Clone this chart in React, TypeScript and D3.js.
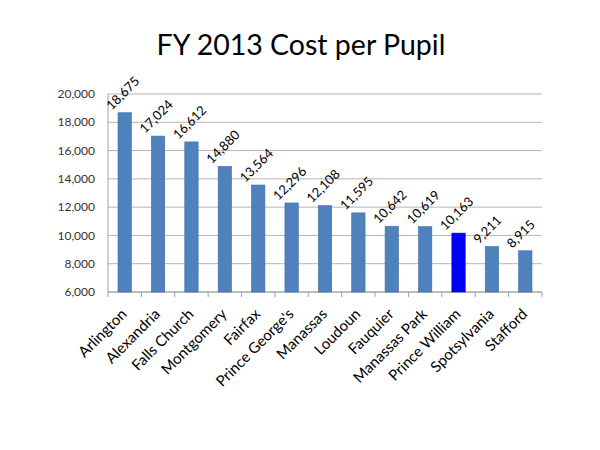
import * as d3 from 'd3'

const CATEGORIES = [
  'Arlington', 'Alexandria', 'Falls Church', 'Montgomery', 'Fairfax', "Prince George's",
  'Manassas', 'Loudoun', 'Fauquier', 'Manassas Park', 'Prince William', 'Spotsylvania', 'Stafford',
]
const COST = [18675, 17024, 16612, 14880, 13564, 12296, 12108, 11595, 10642, 10619, 10163, 9211, 8915]
const HIGHLIGHT = 'Prince William'
const Y_TICKS = [6000, 8000, 10000, 12000, 14000, 16000, 18000, 20000]

const W = 600
const H = 450
const M = { top: 94, right: 58, bottom: 158, left: 108 }
const FONT = 'Lato, "Open Sans", sans-serif'

export default function App() {
  const iw = W - M.left - M.right
  const ih = H - M.top - M.bottom
  const x = d3.scaleBand().domain(CATEGORIES).range([0, iw]).paddingInner(0.6).paddingOuter(0.3)
  const y = d3.scaleLinear().domain([6000, 20000]).range([ih, 0])
  const fmt = d3.format(',')
  const step = x.step()

  return (
    <svg width={W} height={H} style={{ position: 'absolute', left: 0, top: 0, background: '#fff' }}>
      <text x={301} y={55} textAnchor="middle" fontFamily={FONT} fontSize={28.5} fill="#000">
        FY 2013 Cost per Pupil
      </text>
      <g transform={`translate(${M.left},${M.top})`}>
        {Y_TICKS.map(t => (
          <g key={t}>
            <line x1={0} x2={iw} y1={y(t)} y2={y(t)} stroke="#b4b4b4" strokeWidth={1} />
            <text x={-13} y={y(t)} dy="0.35em" textAnchor="end" fontFamily={FONT} fontSize={12} fill="#333">
              {fmt(t)}
            </text>
          </g>
        ))}
        <line x1={0} x2={0} y1={0} y2={ih} stroke="#a0a0a0" />
        <line x1={0} x2={iw} y1={ih} y2={ih} stroke="#a0a0a0" />
        {d3.range(CATEGORIES.length + 1).map(i => (
          <line key={i} x1={i * step} x2={i * step} y1={ih} y2={ih + 5} stroke="#a0a0a0" />
        ))}
        {CATEGORIES.map((c, i) => {
          const bx = x(c) as number
          const by = y(COST[i])
          const cx = bx + x.bandwidth() / 2
          return (
            <g key={c}>
              <rect x={bx} y={by} width={x.bandwidth()} height={ih - by}
                fill={c === HIGHLIGHT ? '#0000ff' : '#4f81bd'}
                stroke={c === HIGHLIGHT ? '#0000cc' : '#3f6ea5'} strokeWidth={0.6} />
              <text transform={`translate(${cx - 13},${by - 2}) rotate(-45)`}
                fontFamily={FONT} fontSize={13} fill="#000">
                {fmt(COST[i])}
              </text>
              <text transform={`translate(${cx + 3},${ih + 23}) rotate(-45)`} textAnchor="end"
                fontFamily={FONT} fontSize={15} fill="#000">
                {c}
              </text>
            </g>
          )
        })}
      </g>
    </svg>
  )
}
